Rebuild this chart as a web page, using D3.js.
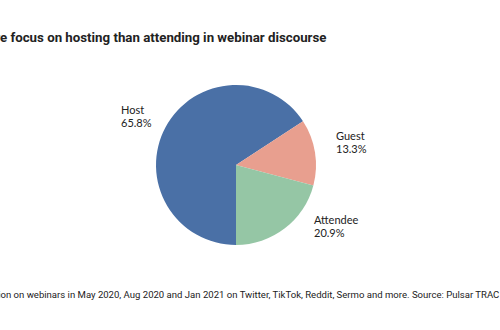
<!DOCTYPE html>
<html>
<head>
<meta charset="utf-8">
<script src="https://cdn.jsdelivr.net/npm/d3@7"></script>
<style>
  html, body { margin: 0; padding: 0; background: #fff; }
  svg { display: block; }
</style>
</head>
<body>
<svg id="chart" width="500" height="330"></svg>
<script>
// Share of webinar conversation by role
const categories = ["Host", "Guest", "Attendee"];
const shares = [65.8, 13.3, 20.9];
const colors = ["#4a70a6", "#e89f8f", "#95c6a5"];

const titleText = "More focus on hosting than attending in webinar discourse";
const footText = "Conversation on webinars in May 2020, Aug 2020 and Jan 2021 on Twitter, TikTok, Reddit, Sermo and more. Source: Pulsar TRAC";

const svg = d3.select("#chart");
const W = 500, H = 330;
const cx = 236, cy = 165, r = 80;

svg.append("rect").attr("width", W).attr("height", H).attr("fill", "#fff");

// Sizes a text so that the part after `skip` characters spans `span` px,
// and shifts it so that part begins at `left`.
function fitText(sel, skip, left, span) {
  const node = sel.node();
  const n = node.getNumberOfChars();
  const size = +sel.attr("font-size");
  const visible = node.getSubStringLength(skip, n - skip);
  sel.attr("font-size", size * span / visible);
  const offset = node.getSubStringLength(0, skip);
  sel.attr("x", left - offset);
}

// Title (headline runs past the left edge of the frame)
const title = svg.append("text")
  .attr("y", 42)
  .attr("font-family", "Roboto, sans-serif")
  .attr("font-weight", 700)
  .attr("font-size", 15)
  .attr("fill", "#222")
  .text(titleText);
fitText(title, 3, 0, 327);

// Footer note
const foot = svg.append("text")
  .attr("y", 298)
  .attr("font-family", "Roboto, sans-serif")
  .attr("font-size", 11)
  .attr("fill", "#222")
  .text(footText);
fitText(foot, 10, 0.5, 499);

// Pie, clockwise from six o'clock
const data = categories.map((c, i) => ({ name: c, value: shares[i], color: colors[i] }));
const pie = d3.pie().value(d => d.value).sort(null)
  .startAngle(Math.PI).endAngle(3 * Math.PI);
const arc = d3.arc().innerRadius(0).outerRadius(r);
const arcs = pie(data);

const g = svg.append("g").attr("transform", `translate(${cx},${cy})`);
g.selectAll("path").data(arcs).join("path")
  .attr("d", arc)
  .attr("fill", d => d.data.color);

// Labels outside each slice
const labelPos = {
  "Host": [121, 114],
  "Guest": [336, 140],
  "Attendee": [314, 224]
};
const labels = svg.append("g")
  .attr("font-family", "Lato, sans-serif")
  .attr("font-size", 11)
  .attr("fill", "#222");
arcs.forEach(d => {
  const [x, y] = labelPos[d.data.name];
  const t = labels.append("text").attr("x", x).attr("y", y);
  t.append("tspan").attr("x", x).text(d.data.name);
  t.append("tspan").attr("x", x).attr("dy", 13).text(d3.format(".1f")(d.data.value) + "%");
});
</script>
</body>
</html>
